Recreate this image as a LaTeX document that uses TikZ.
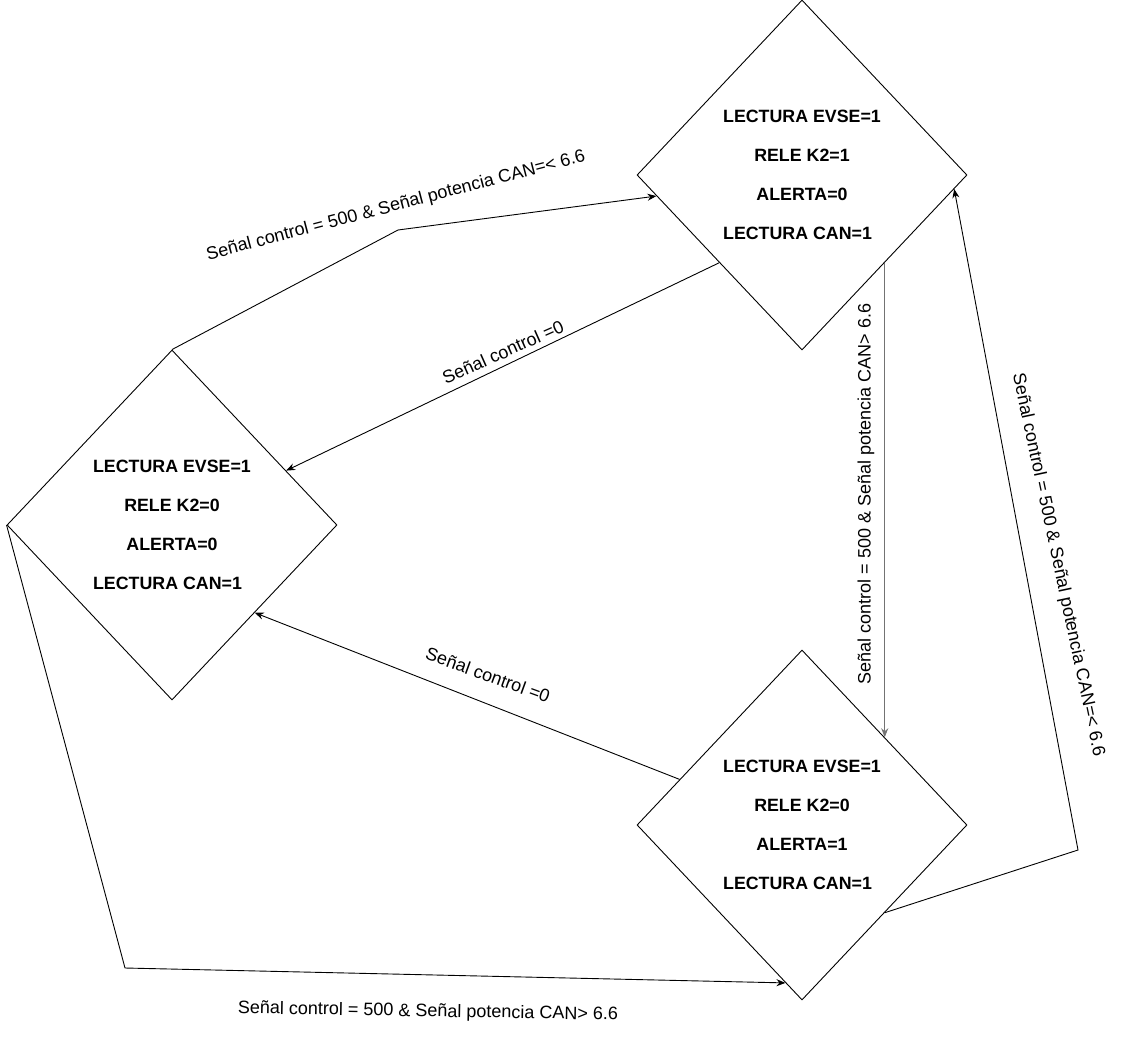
\documentclass[tikz,border=0pt]{standalone}
\usepackage{fontspec}
\setmainfont{Liberation Sans}
\usetikzlibrary{positioning,arrows.meta,shapes.geometric,calc}

\begin{document}
\begin{tikzpicture}[x=1pt,y=-1pt,
  every node/.style={font=\fontsize{18}{21}\selectfont},
  estado/.style={diamond,draw,line width=0.9pt,minimum width=330pt,
    minimum height=350pt,inner sep=0pt,align=center,
    font=\bfseries\fontsize{17.8}{39}\selectfont},
  flecha/.style={line width=0.9pt,-{Stealth[length=9pt,width=7pt]}},
  etiqueta/.style={inner sep=0pt}]
  \useasboundingbox (0,0) rectangle (1122,1052);

  % Estados
  \node[estado] (carga) at (802,175)
    {LECTURA EVSE=1\\RELE K2=1\\ALERTA=0\\\rlap{LECTURA CAN=1}\phantom{LECTURA EVSE=1}};
  \node[estado] (reposo) at (172,525)
    {LECTURA EVSE=1\\RELE K2=0\\ALERTA=0\\\rlap{LECTURA CAN=1}\phantom{LECTURA EVSE=1}};
  \node[estado] (alerta) at (802,825)
    {LECTURA EVSE=1\\RELE K2=0\\ALERTA=1\\\rlap{LECTURA CAN=1}\phantom{LECTURA EVSE=1}};

  % Codos
  \coordinate (codoA) at (398,230);
  \coordinate (codoD) at (1078,850);
  \coordinate (codoF) at (125,968);

  % reposo -> carga
  \draw[flecha] (reposo.north) -- (codoA) -- ($(carga.west)!0.12!(carga.south)$);
  \node[etiqueta,rotate=14.7] (lblA) at (396,206)
    {Señal control = 500 \& Señal potencia CAN=< 6.6};

  % carga -> reposo
  \draw[flecha] ($(carga.west)!0.5!(carga.south)$) -- ($(reposo.north)!0.69!(reposo.east)$);
  \node[etiqueta,rotate=24] (lblB) at (503,352) {Señal control =0};

  % carga -> alerta
  \draw[flecha,draw=black!55] ($(carga.south)!0.5!(carga.east)$) -- ($(alerta.north)!0.5!(alerta.east)$);
  \node[etiqueta,rotate=90] (lblC) at (866,494)
    {Señal control = 500 \& Señal potencia CAN> 6.6};

  % alerta -> carga
  \draw[flecha] ($(alerta.south)!0.5!(alerta.east)$) -- (codoD) -- ($(carga.east)!0.08!(carga.south)$);
  \node[etiqueta,rotate=-78] (lblD) at (1058,565)
    {Señal control = 500 \& Señal potencia CAN=< 6.6};

  % alerta -> reposo
  \draw[flecha] ($(alerta.west)!0.26!(alerta.north)$) -- ($(reposo.south)!0.5!(reposo.east)$);
  \node[etiqueta,rotate=-20] (lblE) at (488,675) {Señal control =0};

  % reposo -> alerta
  \draw[flecha] (reposo.west) -- (codoF) -- ($(alerta.south)!0.1!(alerta.west)$);
  \node[etiqueta,rotate=-1] (lblF) at (428,1012)
    {Señal control = 500 \& Señal potencia CAN> 6.6};
\end{tikzpicture}
\end{document}
